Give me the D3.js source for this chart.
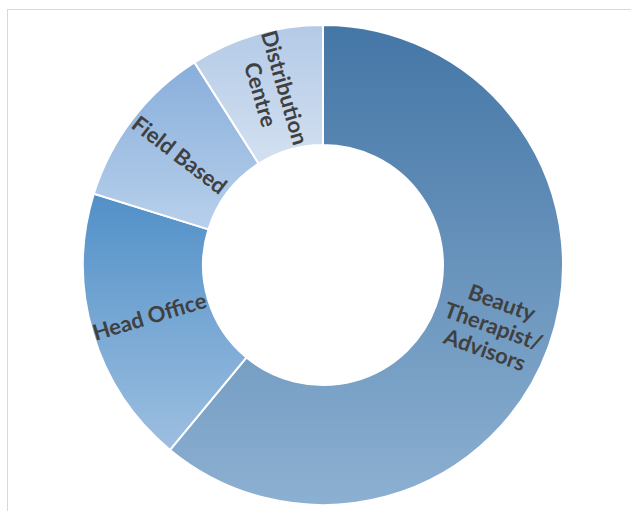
<!DOCTYPE html>
<html>
<head>
<meta charset="utf-8">
<script src="https://cdn.jsdelivr.net/npm/d3@7"></script>
<style>
  body { margin: 0; background: #fff; }
  svg { display: block; }
</style>
</head>
<body>
<svg id="donut-svg" width="631" height="511"></svg>
<script>
// values (share of staff, %)
const categories = ["Beauty Therapist/Advisors", "Head Office", "Field Based", "Distribution Centre"];
const values = [61, 18.8, 11.2, 9.0];
const labelLines = [["Beauty", "Therapist/", "Advisors"], ["Head Office"], ["Field Based"], ["Distribution", "Centre"]];
const topColors = ["#4476a6", "#5190c8", "#88aedb", "#b3cae6"];
const bottomColors = ["#8cb0d1", "#9dbfe0", "#b8d0eb", "#d3e0f1"];

const size = { width: 631, height: 511, cx: 323, cy: 265, outer: 240, inner: 120 };
const svg = d3.select("#donut-svg");

// frame of the chart area (only top and left edges show)
svg.append("rect")
    .attr("x", 7.5).attr("y", 9.5)
    .attr("width", 700).attr("height", 600)
    .attr("fill", "none")
    .attr("stroke", "#d9d9d9")
    .attr("stroke-width", 1);

const data = categories.map((c, i) => ({ name: c, value: values[i], i: i }));

const defs = svg.append("defs");
data.forEach(d => {
    const g = defs.append("linearGradient")
        .attr("id", "grad" + d.i)
        .attr("x1", 0).attr("y1", 0).attr("x2", 0).attr("y2", 1);
    g.append("stop").attr("offset", "0%").attr("stop-color", topColors[d.i]);
    g.append("stop").attr("offset", "100%").attr("stop-color", bottomColors[d.i]);
});

const pie = d3.pie().sort(null).value(d => d.value);
const arc = d3.arc().innerRadius(size.inner).outerRadius(size.outer);
const labelArc = d3.arc().innerRadius(181).outerRadius(181);

const chart = svg.append("g")
    .attr("transform", `translate(${size.cx}, ${size.cy})`);

const arcs = pie(data);

chart.selectAll("path")
    .data(arcs)
    .join("path")
    .attr("d", arc)
    .attr("fill", d => `url(#grad${d.data.i})`)
    .attr("stroke", "#fff")
    .attr("stroke-width", 2);

// labels rotated along the ring
const labels = chart.selectAll("g.label")
    .data(arcs)
    .join("g")
    .attr("class", "label")
    .attr("transform", d => {
        const [x, y] = labelArc.centroid(d);
        let rot = (d.startAngle + d.endAngle) / 2 * 180 / Math.PI - 270;
        if (rot < -90) rot += 180;
        return `translate(${x}, ${y}) rotate(${rot})`;
    });

const lineH = 25;
labels.each(function(d) {
    const lines = labelLines[d.data.i];
    const t = d3.select(this).append("text")
        .attr("text-anchor", "middle")
        .attr("font-family", "Lato, 'Open Sans', sans-serif")
        .attr("font-weight", "bold")
        .attr("font-size", 22)
        .attr("fill", "#404040");
    lines.forEach((l, k) => {
        t.append("tspan")
            .attr("x", 0)
            .attr("y", (k - (lines.length - 1) / 2) * lineH)
            .attr("dy", "0.35em")
            .text(l);
    });
});
</script>
</body>
</html>
